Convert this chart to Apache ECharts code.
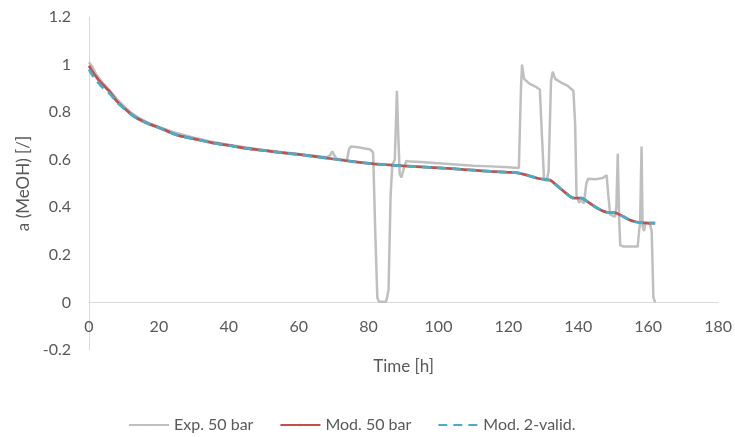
<!DOCTYPE html>
<html>
<head>
<meta charset="utf-8">
<script src="https://cdn.jsdelivr.net/npm/echarts@6/dist/echarts.min.js"></script>
<style>
  html, body { margin: 0; padding: 0; background: #fff; }
  #main { width: 735px; height: 437px; }
</style>
</head>
<body>
<div id="main"></div>
<script>
// experimental curve (time [h], activity)
var expT = [0, 0.5, 1, 2, 3, 4, 5, 6, 8, 10, 12, 14, 17, 20, 25, 30, 35, 40, 45, 50, 55, 60, 65, 68,
  69, 69.6, 70.3, 71, 73.8, 74.4, 75, 77, 80.5, 81.3, 81.9, 82.5, 83, 85, 85.7, 86.3, 86.8, 87.5,
  88.1, 88.5, 88.9, 89.4, 90, 90.8, 92, 95, 100, 105, 110, 115, 120, 123,
  123.6, 123.9, 124.5, 126, 128, 129, 129.6, 130.2, 130.9, 131.5, 132.2, 132.7, 133.4, 135, 137,
  138.6, 139.1, 139.5, 140.2, 141, 141.6, 142.3, 142.8, 145, 147, 148.1, 148.6, 149.1, 150.5,
  150.9, 151.3, 151.7, 152, 153, 157, 157.4, 157.7, 158.1, 158.4, 158.8, 159.2, 160.5, 161, 161.5, 162];
var expA = [1.01, 1.012, 0.99, 0.96, 0.94, 0.922, 0.905, 0.89, 0.855, 0.825, 0.798, 0.778, 0.755, 0.738,
  0.712, 0.693, 0.676, 0.663, 0.651, 0.641, 0.632, 0.624, 0.616, 0.61,
  0.618, 0.635, 0.615, 0.602, 0.598, 0.645, 0.656, 0.652, 0.643, 0.63, 0.3, 0.02, 0.003, 0.003, 0.05,
  0.45, 0.58, 0.6, 0.89, 0.7, 0.54, 0.525, 0.56, 0.595, 0.592, 0.59, 0.585, 0.58, 0.575, 0.572, 0.568, 0.565,
  0.9, 1.0, 0.94, 0.92, 0.905, 0.895, 0.7, 0.52, 0.51, 0.55, 0.93, 0.97, 0.94, 0.925, 0.91,
  0.89, 0.75, 0.45, 0.42, 0.43, 0.415, 0.5, 0.52, 0.518, 0.523, 0.535, 0.45, 0.37, 0.36,
  0.4, 0.625, 0.35, 0.24, 0.235, 0.235, 0.3, 0.34, 0.655, 0.32, 0.3, 0.335, 0.328, 0.3, 0.02, 0.0];

// model curves
var modT = [0, 1, 2, 3, 4, 5, 6, 8, 10, 12, 14, 17, 20, 23, 26, 30, 35, 40, 45, 50, 55, 60, 65, 70, 75,
  80, 85, 90, 95, 100, 105, 110, 115, 120, 123, 126, 129, 131, 132, 134, 136, 138, 139, 141, 142,
  144, 146, 148, 150, 151, 153, 155, 157, 159, 162];
var modA = [0.995, 0.97, 0.95, 0.93, 0.915, 0.9, 0.885, 0.845, 0.817, 0.792, 0.772, 0.751, 0.735, 0.716,
  0.70, 0.688, 0.672, 0.66, 0.648, 0.639, 0.630, 0.622, 0.613, 0.603, 0.593, 0.585, 0.579, 0.574,
  0.570, 0.566, 0.561, 0.556, 0.551, 0.547, 0.544, 0.532, 0.52, 0.516, 0.514, 0.49, 0.465, 0.442,
  0.438, 0.438, 0.43, 0.41, 0.392, 0.38, 0.378, 0.375, 0.36, 0.345, 0.337, 0.334, 0.333];
var valA = [0.98, 0.955, 0.935, 0.918, 0.903, 0.89, 0.877, 0.842, 0.815, 0.791, 0.772, 0.751, 0.734, 0.716,
  0.70, 0.688, 0.672, 0.66, 0.648, 0.639, 0.630, 0.622, 0.613, 0.603, 0.593, 0.585, 0.579, 0.574,
  0.570, 0.566, 0.561, 0.556, 0.551, 0.547, 0.544, 0.532, 0.52, 0.516, 0.514, 0.49, 0.465, 0.442,
  0.438, 0.438, 0.43, 0.41, 0.392, 0.38, 0.378, 0.375, 0.36, 0.345, 0.337, 0.334, 0.333];

var xTicks = { min: 0, max: 180, step: 20 };
var yTicks = { min: -0.2, max: 1.2, step: 0.2 };

function pairs(xs, ys) {
  return xs.map(function (x, i) { return [x, ys[i]]; });
}

var chart = echarts.init(document.getElementById('main'));
var font = 'Lato, "Open Sans", sans-serif';

var option = {
  animation: false,
  textStyle: { fontFamily: font },
  grid: { left: 89, right: 16, top: 17, bottom: 87, containLabel: false },
  legend: {
    left: 123,
    top: 412,
    itemWidth: 40,
    itemHeight: 3,
    itemGap: 26,
    textStyle: { color: '#595959', fontSize: 16, fontFamily: font },
    data: ['Exp. 50 bar', 'Mod. 50 bar', 'Mod. 2-valid.']
  },
  xAxis: {
    type: 'value',
    min: xTicks.min, max: xTicks.max, interval: xTicks.step,
    name: 'Time [h]',
    nameLocation: 'middle',
    nameGap: 56,
    offset: -48,
    nameTextStyle: { color: '#595959', fontSize: 17, fontFamily: font },
    axisLine: { onZero: false, lineStyle: { color: '#D9D9D9', width: 1 } },
    axisTick: { show: false },
    splitLine: { show: false },
    axisLabel: { color: '#595959', fontSize: 16, margin: 17 }
  },
  yAxis: {
    type: 'value',
    min: yTicks.min, max: yTicks.max, interval: yTicks.step,
    name: 'a (MeOH) [/]',
    nameLocation: 'middle',
    nameGap: 56,
    nameTextStyle: { color: '#595959', fontSize: 17, fontFamily: font },
    axisLine: { show: true, onZero: false, lineStyle: { color: '#D9D9D9', width: 1 } },
    axisTick: { show: false },
    splitLine: { show: false },
    axisLabel: {
      color: '#595959', fontSize: 16, margin: 18,
      formatter: function (v) { return String(Math.round(v * 10) / 10); }
    }
  },
  series: [
    {
      name: 'Exp. 50 bar', type: 'line', showSymbol: false, symbol: 'none',
      data: pairs(expT, expA),
      lineStyle: { color: '#BFBFBF', width: 2.5 },
      itemStyle: { color: '#BFBFBF' },
      z: 1
    },
    {
      name: 'Mod. 50 bar', type: 'line', showSymbol: false, symbol: 'none', smooth: 0.3,
      data: pairs(modT, modA),
      lineStyle: { color: '#C0504D', width: 2.75 },
      itemStyle: { color: '#C0504D' },
      z: 2
    },
    {
      name: 'Mod. 2-valid.', type: 'line', showSymbol: false, symbol: 'none', smooth: 0.3,
      data: pairs(modT, valA),
      lineStyle: { color: '#4BACC6', width: 2.75, type: [9, 6] },
      itemStyle: { color: '#4BACC6' },
      z: 3
    }
  ]
};

chart.setOption(option);
</script>
</body>
</html>
